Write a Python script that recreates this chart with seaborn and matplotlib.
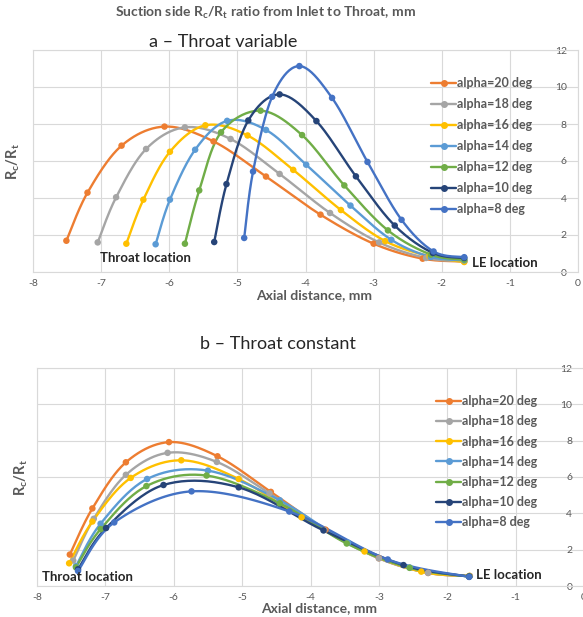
import numpy as np
import pandas as pd
import matplotlib
matplotlib.use("Agg")
import matplotlib.pyplot as plt
from matplotlib.lines import Line2D
import seaborn as sns

# series labels and colours (Office palette)
labels = ["alpha=20 deg", "alpha=18 deg", "alpha=16 deg", "alpha=14 deg",
          "alpha=12 deg", "alpha=10 deg", "alpha=8 deg"]
colors = ["#ED7D31", "#A5A5A5", "#FFC000", "#5B9BD5", "#70AD47", "#264478", "#4472C4"]

# a - throat variable
a20_x = [-7.51, -7.20, -6.70, -6.07, -5.35, -4.58, -3.78, -3.00, -2.28, -1.67]
a20_y = [1.69, 4.29, 6.83, 7.86, 7.06, 5.16, 3.10, 1.53, 0.72, 0.57]
a18_x = [-7.05, -6.78, -6.34, -5.77, -5.10, -4.38, -3.64, -2.92, -2.23, -1.67]
a18_y = [1.60, 4.04, 6.65, 7.82, 7.19, 5.30, 3.19, 1.60, 0.76, 0.58]
a16_x = [-6.63, -6.38, -5.99, -5.47, -4.85, -4.18, -3.48, -2.83, -2.18, -1.67]
a16_y = [1.53, 3.91, 6.50, 7.93, 7.38, 5.52, 3.35, 1.67, 0.85, 0.54]
a14_x = [-6.20, -5.99, -5.62, -5.15, -4.58, -3.99, -3.34, -2.74, -2.16, -1.67]
a14_y = [1.50, 3.91, 6.61, 8.17, 7.68, 5.80, 3.59, 1.74, 0.81, 0.63]
a12_x = [-5.77, -5.56, -5.24, -4.66, -4.05, -3.43, -2.79, -2.16, -1.67]
a12_y = [1.53, 4.41, 7.55, 8.72, 7.40, 4.68, 2.25, 0.94, 0.67]
a10_x = [-5.34, -5.16, -4.84, -4.38, -3.84, -3.26, -2.69, -2.13, -1.67]
a10_y = [1.62, 4.75, 8.19, 9.60, 8.16, 5.17, 2.51, 1.03, 0.76]
a8_x = [-4.90, -4.77, -4.49, -4.09, -3.61, -3.09, -2.59, -2.12, -1.67]
a8_y = [1.84, 5.43, 9.47, 11.13, 9.41, 5.95, 2.82, 1.11, 0.80]

# b - throat constant
b20_x = [-7.52, -7.19, -6.70, -6.07, -5.36, -4.58, -3.78, -3.00, -2.28, -1.67]
b20_y = [1.73, 4.27, 6.81, 7.92, 7.14, 5.18, 3.10, 1.53, 0.72, 0.55]
b18_x = [-7.47, -7.17, -6.70, -6.09, -5.37, -4.60, -3.80, -3.00, -2.28, -1.67]
b18_y = [1.40, 3.70, 6.12, 7.33, 6.83, 5.10, 3.08, 1.52, 0.72, 0.55]
b16_x = [-7.53, -7.19, -6.63, -5.89, -5.05, -4.13, -3.21, -2.38, -1.68]
b16_y = [1.25, 3.55, 5.95, 6.92, 5.89, 3.78, 1.90, 0.79, 0.55]
b14_x = [-7.43, -7.07, -6.39, -5.50, -4.45, -3.45, -2.55, -1.68]
b14_y = [1.09, 3.43, 5.89, 6.35, 4.72, 2.38, 1.02, 0.52]
b12_x = [-7.43, -7.07, -6.40, -5.52, -4.45, -3.47, -2.55, -1.68]
b12_y = [1.03, 3.13, 5.50, 6.08, 4.55, 2.34, 1.00, 0.52]
b10_x = [-7.40, -6.99, -6.15, -5.05, -3.81, -2.64, -1.68]
b10_y = [0.92, 3.19, 5.56, 5.43, 3.06, 1.15, 0.52]
b8_x = [-7.40, -6.87, -5.74, -4.31, -2.87, -1.68]
b8_y = [0.83, 3.50, 5.21, 4.10, 1.46, 0.50]

series_a = [(a20_x, a20_y), (a18_x, a18_y), (a16_x, a16_y), (a14_x, a14_y),
            (a12_x, a12_y), (a10_x, a10_y), (a8_x, a8_y)]
series_b = [(b20_x, b20_y), (b18_x, b18_y), (b16_x, b16_y), (b14_x, b14_y),
            (b12_x, b12_y), (b10_x, b10_y), (b8_x, b8_y)]

GRAY = "#595959"
GRID = "#D9D9D9"


def smooth(xs, ys, n=24):
    # excel style smoothed line (bezier through the points)
    pts = np.column_stack([xs, ys]).astype(float)
    P = np.vstack([pts[0], pts, pts[-1]])
    t = np.linspace(0, 1, n)[:, None]
    out = []
    for i in range(1, len(P) - 2):
        p0, p1, p2, p3 = P[i - 1], P[i], P[i + 1], P[i + 2]
        c1 = p1 + (p2 - p0) / 6
        c2 = p2 - (p3 - p1) / 6
        seg = (1 - t) ** 3 * p1 + 3 * (1 - t) ** 2 * t * c1 + 3 * (1 - t) * t ** 2 * c2 + t ** 3 * p2
        out.append(seg if i == 1 else seg[1:])
    return np.vstack(out)


def draw_panel(ax, series, title, title_x, title_pad, ylab_x, leg_anchor, leg_space,
               throat_xy, le_xy, ypad):
    pts, curves = [], []
    for lab, (xs, ys) in zip(labels, series):
        pts.append(pd.DataFrame({"x": xs, "y": ys, "series": lab}))
        c = smooth(xs, ys)
        curves.append(pd.DataFrame({"x": c[:, 0], "y": c[:, 1], "series": lab}))
    pts = pd.concat(pts, ignore_index=True)
    curves = pd.concat(curves, ignore_index=True)
    pal = dict(zip(labels, colors))

    sns.lineplot(data=curves, x="x", y="y", hue="series", palette=pal, sort=False,
                 estimator=None, lw=1.7, legend=False, ax=ax, zorder=2)
    sns.scatterplot(data=pts, x="x", y="y", hue="series", palette=pal, s=22,
                    linewidth=0, legend=False, ax=ax, zorder=3)

    ax.set_xlim(-8, 0)
    ax.set_ylim(0, 12)
    ax.set_xticks(range(-8, 1))
    ax.set_yticks(range(0, 13, 2))
    ax.grid(True, color=GRID, lw=0.8)
    ax.set_axisbelow(True)
    for s in ax.spines.values():
        s.set_color(GRID)
        s.set_linewidth(0.8)
    ax.tick_params(axis="x", length=0, pad=5, labelsize=7.5, labelcolor=GRAY)
    ax.tick_params(axis="y", length=0, left=False, labelleft=False, labelright=True,
                   pad=ypad, labelsize=7.5, labelcolor=GRAY)
    for t in ax.get_yticklabels():
        t.set_ha("right")

    ax.set_xlabel("Axial distance, mm", fontsize=10, fontweight="bold", color=GRAY)
    ax.set_ylabel(r"R$_c$/R$_t$", fontsize=10.5, fontweight="bold", color=GRAY)
    ax.xaxis.set_label_coords(0.515, -0.075)
    ax.yaxis.set_label_coords(ylab_x, 0.5)
    ax.set_title(title, fontsize=13, pad=title_pad)
    ax.title.set_x(title_x)

    ax.text(throat_xy[0], throat_xy[1], "Throat location", fontsize=9.5,
            fontweight="bold", va="center", ha="left")
    ax.text(le_xy[0], le_xy[1], "LE location", fontsize=9.5,
            fontweight="bold", va="center", ha="left")

    handles = [Line2D([], [], color=c, lw=1.7, marker="o", markersize=4) for c in colors]
    leg = ax.legend(handles, labels, loc="upper left", bbox_to_anchor=leg_anchor,
                    bbox_transform=ax.figure.transFigure, frameon=False, fontsize=9,
                    handlelength=2.0, handletextpad=0.1, labelspacing=leg_space,
                    borderpad=0, borderaxespad=0)
    for t in leg.get_texts():
        t.set_color(GRAY)
        t.set_fontweight("bold")


sns.set_theme(style="white")
plt.rcParams["font.family"] = ["Lato", "DejaVu Sans"]
plt.rcParams["mathtext.default"] = "regular"
plt.rcParams["axes.unicode_minus"] = False

W, H = 583, 617
fig = plt.figure(figsize=(W / 100, H / 100), dpi=100)
ax_a = fig.add_axes([33 / W, 1 - 272 / H, 545 / W, 222 / H])
ax_b = fig.add_axes([37 / W, 1 - 586 / H, 547 / W, 218 / H])

draw_panel(ax_a, series_a, "a \u2013 Throat variable", 0.349, 2.5, -0.020,
           (431 / W, 1 - 77 / H), 0.72, (-7.02, 0.76), (-1.56, 0.49), -8)
draw_panel(ax_b, series_b, "b \u2013 Throat constant", 0.44, 14, -0.013,
           (436 / W, 1 - 395 / H), 0.66, (-7.93, 0.50), (-1.58, 0.61), -8.5)

fig.text(265 / W, 1 - 13 / H, r"Suction side R$_c$/R$_t$ ratio from Inlet to Throat, mm",
         ha="center", va="center", fontsize=10, fontweight="bold", color=GRAY)

fig.savefig("out.png", dpi=100)
